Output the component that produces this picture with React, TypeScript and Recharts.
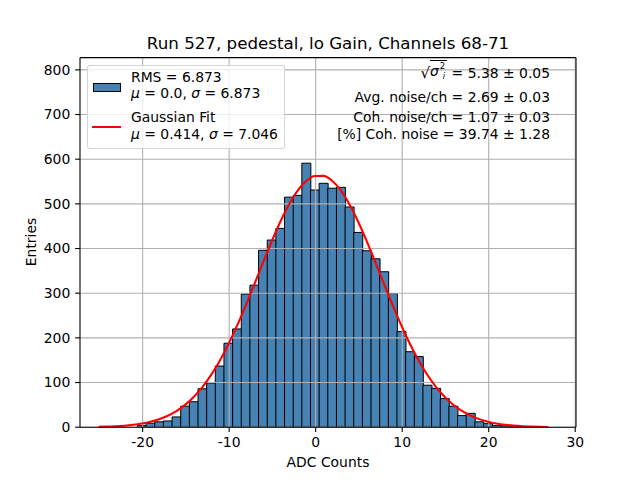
import {
  ComposedChart,
  Bar,
  Line,
  XAxis,
  YAxis,
  ReferenceLine,
} from 'recharts';

// histogram bins (centre of each 1-count-wide bin) and entries per bin
const binCenters = [
  -20.1, -19.1, -18.1, -17.1, -16.1, -15.1, -14.1, -13.1, -12.1, -11.1,
  -10.1, -9.1, -8.1, -7.1, -6.1, -5.1, -4.1, -3.1, -2.1, -1.1,
  -0.1, 0.9, 1.9, 2.9, 3.9, 4.9, 5.9, 6.9, 7.9, 8.9,
  9.9, 10.9, 11.9, 12.9, 13.9, 14.9, 15.9, 16.9, 17.9, 18.9,
  19.9, 20.9, 21.9, 22.9,
];
const entries = [
  4, 9, 12, 14, 23, 47, 57, 86, 99, 137,
  188, 220, 298, 318, 396, 419, 445, 515, 519, 591,
  531, 546, 535, 537, 493, 436, 395, 377, 348, 299,
  214, 169, 158, 94, 87, 64, 47, 26, 31, 12,
  8, 4, 3, 1,
];

// gaussian fit curve
const fitX = [
  -25.1, -24.1, -23.1, -22.1, -21.1, -20.1, -19.1, -18.1, -17.1, -16.1,
  -15.1, -14.1, -13.1, -12.1, -11.1, -10.1, -9.1, -8.1, -7.1, -6.1,
  -5.1, -4.1, -3.1, -2.1, -1.1, -0.1, 0.9, 1.9, 2.9, 3.9,
  4.9, 5.9, 6.9, 7.9, 8.9, 9.9, 10.9, 11.9, 12.9, 13.9,
  14.9, 15.9, 16.9, 17.9, 18.9, 19.9, 20.9, 21.9, 22.9, 23.9,
  24.9, 25.9, 26.9,
];
const fitY = [
  0.8, 1.33, 2.15, 3.42, 5.33, 8.14, 12.2, 17.9, 25.7, 36.2,
  50.0, 67.6, 89.6, 116.5, 148.4, 185.3, 226.7, 271.8, 319.4, 367.8,
  415.2, 459.4, 498.0, 529.2, 551.1, 562.5, 562.7, 551.6, 530.0, 499.0,
  460.6, 416.5, 369.2, 320.7, 273.1, 227.9, 186.4, 149.4, 117.3, 90.3,
  68.1, 50.4, 36.5, 25.9, 18.1, 12.3, 8.23, 5.39, 3.47, 2.18,
  1.35, 0.81, 0.48,
];

const xTicks = [-20, -10, 0, 10, 20, 30];
const yTicks = [0, 100, 200, 300, 400, 500, 600, 700, 800];
const xDomain: [number, number] = [-27.24, 30.09];
const yDomain: [number, number] = [0, 827.4];

const title = 'Run 527, pedestal, lo Gain, Channels 68-71';

const countByKey = new Map<number, number>();
binCenters.forEach((c, i) => countByKey.set(Math.round(c * 10), entries[i]));

const rows = fitX.map((x, i) => ({
  adc: x,
  entries: countByKey.get(Math.round(x * 10)),
  fit: fitY[i],
}));

const FONT = '"DejaVu Sans", sans-serif';
const tickStyle = { fontSize: 13.9, fill: '#000', fontFamily: FONT };
const GRID = '#b0b0b0';

function SqrtSigma() {
  return (
    <span style={{ display: 'inline-flex', alignItems: 'flex-end', lineHeight: '16px' }}>
      <span style={{ fontSize: 15 }}>√</span>
      <span
        style={{
          borderTop: '1px solid #000',
          display: 'inline-flex',
          alignItems: 'center',
          paddingRight: 2,
        }}
      >
        <i>σ</i>
        <span
          style={{
            display: 'inline-flex',
            flexDirection: 'column',
            fontSize: 8.5,
            lineHeight: '10px',
            marginLeft: 1,
          }}
        >
          <span>2</span>
          <i>i</i>
        </span>
      </span>
    </span>
  );
}

export default function App() {
  return (
    <div
      style={{
        position: 'absolute',
        left: 0,
        top: 0,
        width: 640,
        height: 480,
        background: '#fff',
        fontFamily: FONT,
        color: '#000',
      }}
    >
      <ComposedChart
        width={640}
        height={480}
        data={rows}
        margin={{ top: 57.6, right: 64, bottom: 0, left: 0 }}
        barCategoryGap={0}
        barGap={0}
      >
        <XAxis
          type="number"
          dataKey="adc"
          domain={xDomain}
          ticks={xTicks}
          allowDataOverflow
          height={52.8}
          tick={tickStyle}
          tickSize={4.86}
          tickMargin={4.86}
          tickLine={{ stroke: '#000', strokeWidth: 1.1 }}
          axisLine={{ stroke: '#000', strokeWidth: 1.1 }}
        />
        <YAxis
          type="number"
          domain={yDomain}
          ticks={yTicks}
          allowDataOverflow
          width={80}
          tick={tickStyle}
          tickSize={4.86}
          tickMargin={4.86}
          tickLine={{ stroke: '#000', strokeWidth: 1.1 }}
          axisLine={{ stroke: '#000', strokeWidth: 1.1 }}
        />
        <Bar
          dataKey="entries"
          fill="#4682b4"
          stroke="#000"
          strokeWidth={1}
          isAnimationActive={false}
        />
        {/* grid drawn above the bars, as in the original */}
        {xTicks.map((t) => (
          <ReferenceLine key={`gx${t}`} x={t} stroke={GRID} strokeWidth={1.1} zIndex={350} />
        ))}
        {yTicks.map((t) => (
          <ReferenceLine key={`gy${t}`} y={t} stroke={GRID} strokeWidth={1.1} zIndex={350} />
        ))}
        <Line
          type="monotone"
          dataKey="fit"
          stroke="#ff0000"
          strokeWidth={2.08}
          dot={false}
          activeDot={false}
          isAnimationActive={false}
        />
        <ReferenceLine y={yDomain[1]} stroke="#000" strokeWidth={1.1} ifOverflow="visible" />
        <ReferenceLine x={xDomain[1]} stroke="#000" strokeWidth={1.1} ifOverflow="visible" />
      </ComposedChart>

      {/* title */}
      <div
        style={{
          position: 'absolute',
          left: 28,
          width: 600,
          top: 32.5,
          textAlign: 'center',
          fontSize: 16.7,
          lineHeight: '20px',
          whiteSpace: 'nowrap',
        }}
      >
        {title}
      </div>

      {/* axis labels */}
      <div
        style={{
          position: 'absolute',
          left: 228,
          width: 200,
          top: 454,
          textAlign: 'center',
          fontSize: 13.9,
          lineHeight: '16px',
        }}
      >
        ADC Counts
      </div>
      <div
        style={{
          position: 'absolute',
          left: 30.7 - 50,
          width: 100,
          top: 242.4 - 8,
          height: 16,
          textAlign: 'center',
          fontSize: 13.9,
          lineHeight: '16px',
          transform: 'rotate(-90deg)',
        }}
      >
        Entries
      </div>

      {/* legend */}
      <div
        style={{
          position: 'absolute',
          left: 87.3,
          top: 65,
          width: 197.7,
          height: 84,
          boxSizing: 'border-box',
          background: 'rgba(255,255,255,0.8)',
          border: '1px solid rgba(204,204,204,0.8)',
          borderRadius: 3,
          fontSize: 13.9,
          lineHeight: '16px',
          whiteSpace: 'nowrap',
        }}
      >
        <div
          style={{
            position: 'absolute',
            left: 4.4,
            top: 17.3,
            width: 28,
            height: 8.4,
            boxSizing: 'border-box',
            background: '#4682b4',
            border: '1px solid #000',
          }}
        />
        <div
          style={{
            position: 'absolute',
            left: 4,
            top: 60.3,
            width: 28.4,
            height: 2.1,
            background: '#ff0000',
          }}
        />
        <div style={{ position: 'absolute', left: 42.7, top: 2.7 }}>RMS = 6.873</div>
        <div style={{ position: 'absolute', left: 42.7, top: 19.3 }}>
          <i>μ</i> = 0.0, <i>σ</i> = 6.873
        </div>
        <div style={{ position: 'absolute', left: 42.7, top: 42.7 }}>Gaussian Fit</div>
        <div style={{ position: 'absolute', left: 42.7, top: 60 }}>
          <i>μ</i> = 0.414, <i>σ</i> = 7.046
        </div>
      </div>

      {/* noise summary */}
      <div
        style={{
          position: 'absolute',
          right: 90,
          top: 0,
          fontSize: 13.9,
          lineHeight: '16px',
          textAlign: 'right',
          whiteSpace: 'nowrap',
        }}
      >
        <div style={{ position: 'absolute', right: 0, top: 60 }}>
          <SqrtSigma /> = 5.38 ± 0.05
        </div>
        <div style={{ position: 'absolute', right: 0, top: 88.7 }}>
          Avg. noise/ch = 2.69 ± 0.03
        </div>
        <div style={{ position: 'absolute', right: 0, top: 108.7 }}>
          Coh. noise/ch = 1.07 ± 0.03
        </div>
        <div style={{ position: 'absolute', right: 0, top: 126 }}>
          [%] Coh. noise = 39.74 ± 1.28
        </div>
      </div>
    </div>
  );
}
